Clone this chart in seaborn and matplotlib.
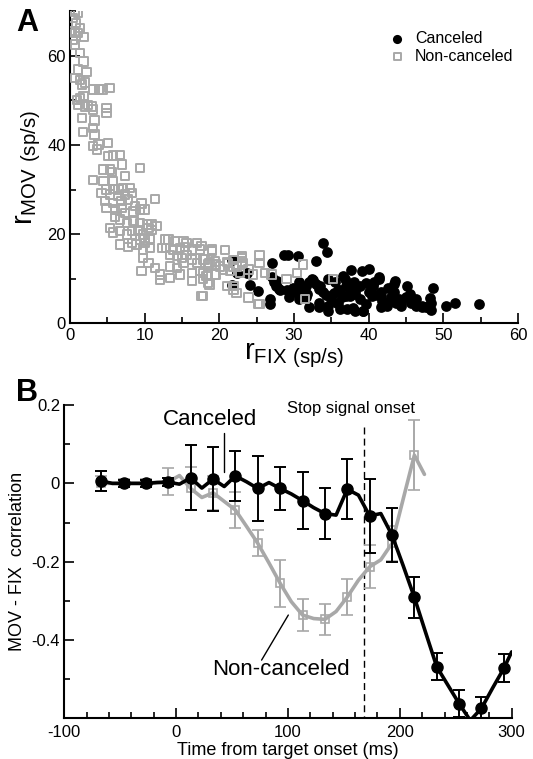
import matplotlib
matplotlib.use('Agg')
import matplotlib.pyplot as plt
from matplotlib.ticker import MultipleLocator, FuncFormatter
import numpy as np
import seaborn as sns

# ---- panel A data ----
canc_fix = [21.7, 22.4, 21.7, 23.7, 24.1, 25.2, 27.0, 26.8, 26.8, 27.7, 28.6, 29.2, 30.6, 28.1,
            29.9, 30.8, 31.7, 33.0, 33.9, 34.4, 32.4, 33.5, 34.6, 33.3, 34.6, 35.7, 36.6, 36.2,
            37.0, 35.3, 37.3, 37.0, 37.5, 38.2, 37.9, 39.1, 40.0, 39.7, 40.6, 40.4, 39.3, 41.4,
            41.7, 42.6, 43.5, 42.9, 44.0, 45.1, 45.5, 44.4, 46.4, 47.1, 48.2, 48.6, 48.4, 48.0,
            50.4, 51.6, 54.8, 27.0, 27.3, 27.6, 28.0, 29.1, 29.5, 30.2, 30.7, 31.6, 32.0, 32.5,
            33.0, 33.4, 33.9, 34.3, 35.0, 35.5, 35.9, 36.4, 36.8, 37.5, 38.2, 38.9, 39.6, 40.0,
            40.7, 41.1, 41.8, 42.5, 43.0, 43.6, 44.3, 45.0, 45.7, 46.4, 47.1, 47.7, 48.4, 36.1,
            37.1, 38.2, 39.3, 41.6, 33.4, 34.5, 32.0, 35.9, 38.9, 38.0, 41.6, 43.4, 30.7, 29.3,
            31.6, 37.7, 41.4, 43.4]
canc_mov = [14.2, 11.3, 8.7, 11.2, 8.7, 7.2, 13.6, 5.4, 4.3, 9.5, 15.4, 15.4, 15.2, 7.6,
            8.0, 7.2, 6.5, 13.9, 18.1, 16.0, 10.0, 8.4, 10.0, 4.6, 3.9, 4.6, 10.6, 7.6,
            6.1, 6.9, 9.1, 8.4, 6.1, 7.2, 3.5, 11.7, 12.1, 9.1, 8.4, 6.1, 2.8, 10.5,
            6.1, 8.0, 9.5, 5.0, 5.4, 8.4, 6.5, 4.6, 5.4, 3.9, 5.8, 8.0, 3.1, 3.6,
            3.9, 4.6, 4.4, 10.4, 9.3, 8.5, 7.8, 7.4, 7.0, 7.0, 9.3, 8.5, 9.3, 9.7,
            8.9, 7.8, 7.0, 6.3, 5.5, 9.3, 7.4, 5.9, 10.0, 7.8, 6.6, 5.5, 4.4, 7.0,
            9.3, 6.3, 5.1, 4.0, 5.9, 4.7, 4.0, 5.9, 4.7, 4.0, 3.6, 3.6, 4.7, 3.2,
            3.2, 2.8, 2.8, 3.6, 3.8, 2.8, 3.6, 4.7, 8.5, 9.3, 7.0, 7.0, 5.5, 5.9,
            5.9, 12.0, 9.9, 8.9]

nonc_fix = [0.7, 1.1, 0.4, 0.8, 1.3, 0.2, 0.7, 1.1, 1.9, 0.4, 0.7, 1.3, 1.8, 1.1, 2.2, 0.7,
            1.3, 1.6, 2.0, 3.1, 3.9, 4.4, 5.3, 0.9, 1.3, 1.8, 1.1, 2.0, 2.4, 2.9, 3.1, 4.9,
            4.9, 1.6, 3.3, 3.1, 1.7, 3.3, 3.1, 3.8, 5.1, 3.6, 5.1, 5.8, 6.7, 7.0, 9.4, 4.5,
            5.4, 3.1, 5.6, 7.4, 4.5, 5.8, 4.9, 5.8, 6.5, 7.1, 8.0, 4.2, 5.4, 6.5, 7.4, 8.3,
            4.7, 5.8, 6.9, 7.8, 8.7, 9.6, 10.0, 11.4, 4.9, 6.0, 6.9, 7.4, 8.5, 9.4, 6.0, 6.7,
            7.6, 8.5, 9.4, 10.3, 10.9, 11.6, 5.4, 5.8, 6.7, 7.6, 8.3, 9.1, 9.8, 10.5, 10.9, 9.4,
            10.0, 10.7, 6.7, 7.8, 8.3, 8.9, 10.0, 10.7, 9.8, 12.7, 13.2, 14.1, 15.2, 15.6, 17.0, 12.3,
            12.9, 13.8, 14.7, 15.4, 13.4, 14.3, 15.0, 15.6, 16.3, 17.4, 19.0, 20.8, 9.8, 10.5, 9.6, 11.4,
            12.1, 13.4, 14.3, 15.2, 16.3, 17.0, 17.8, 18.5, 19.4, 20.1, 21.2, 13.4, 14.7, 16.3, 16.3, 17.4,
            18.3, 18.5, 19.6, 20.5, 21.0, 21.9, 21.9, 23.0, 23.9, 24.5, 23.9, 23.0, 25.2, 17.8, 12.1, 17.6,
            19.0, 18.1, 18.7, 19.6, 21.0, 21.9, 23.0, 23.1, 17.8, 18.5, 19.4, 21.4, 22.3, 22.8, 17.8, 18.7,
            21.9, 22.3, 25.4, 25.4, 26.1, 27.0, 25.4, 29.0, 30.4, 31.2, 31.5, 35.2, 17.6]
nonc_mov = [69.9, 69.5, 68.4, 67.3, 66.2, 65.4, 65.1, 65.1, 64.2, 63.6, 62.5, 60.6, 58.7, 56.9, 56.3, 55.0,
            54.6, 53.5, 54.0, 52.4, 52.4, 52.4, 52.8, 50.1, 50.5, 50.9, 49.0, 48.6, 49.0, 48.6, 47.9, 48.3,
            47.2, 46.0, 45.5, 43.8, 42.9, 42.3, 39.7, 40.1, 40.5, 39.0, 37.5, 37.6, 37.8, 35.6, 34.9, 34.5,
            34.5, 32.1, 33.9, 33.0, 31.9, 31.9, 30.0, 30.2, 30.0, 30.4, 30.4, 29.3, 28.9, 28.5, 28.9, 29.3,
            27.4, 27.0, 27.4, 27.8, 26.3, 26.9, 25.5, 27.9, 25.9, 25.5, 25.9, 24.8, 25.1, 25.5, 24.0, 23.3,
            22.5, 22.9, 22.5, 22.2, 22.2, 21.8, 21.4, 20.4, 20.7, 19.9, 20.7, 21.0, 19.9, 21.4, 21.0, 18.8,
            19.2, 19.0, 17.7, 17.2, 18.1, 17.7, 18.1, 16.9, 16.6, 18.8, 18.8, 18.4, 18.4, 18.1, 18.1, 16.9,
            16.9, 16.6, 16.9, 17.2, 15.4, 15.1, 14.7, 15.4, 16.6, 16.6, 16.6, 16.4, 14.7, 13.6, 11.7, 12.5,
            11.0, 12.8, 12.5, 13.6, 14.3, 13.6, 14.3, 13.2, 13.9, 12.8, 13.6, 10.2, 11.0, 11.3, 9.5, 11.7,
            10.6, 9.0, 11.0, 12.1, 8.4, 8.4, 12.8, 14.7, 12.1, 11.0, 5.8, 13.9, 4.3, 6.1, 9.8, 17.3,
            16.2, 14.3, 13.6, 13.2, 13.7, 14.2, 15.1, 13.6, 11.3, 11.0, 11.0, 11.7, 12.8, 11.3, 9.9, 8.7,
            7.6, 6.9, 15.2, 13.6, 11.3, 11.0, 4.3, 10.0, 11.3, 13.2, 5.5, 10.0, 6.1]

# ---- panel B data ----
t_pts = [-67, -47, -27, -7, 13, 33, 53, 73, 93, 113, 133, 153, 173, 193, 213, 233, 253, 273, 293]
canc_r = [0.006, 0.0, 0.0, 0.003, 0.014, 0.011, 0.019, -0.013, -0.013, -0.044, -0.077, -0.015,
          -0.083, -0.132, -0.291, -0.468, -0.562, -0.574, -0.472]
canc_err = [0.026, 0.008, 0.008, 0.01, 0.083, 0.081, 0.063, 0.084, 0.054, 0.072, 0.064, 0.077,
            0.094, 0.069, 0.052, 0.035, 0.034, 0.03, 0.036]
t_pts_nc = [-67, -47, -27, -7, 13, 33, 53, 73, 93, 113, 133, 153, 173, 193, 213]
nonc_r = [0.0, 0.0, 0.0, 0.004, -0.013, -0.024, -0.068, -0.153, -0.255, -0.336, -0.347, -0.29,
          -0.213, -0.153, 0.072]
nonc_err = [0.02, 0.01, 0.01, 0.034, 0.055, 0.044, 0.045, 0.033, 0.06, 0.041, 0.04, 0.045,
            0.055, 0.045, 0.09]

t_line_c = [-67, -57, -47, -37, -27, -17, -7, 3, 13, 23, 33, 43, 53, 63, 73, 83, 93, 103, 113,
            123, 133, 143, 153, 163, 173, 183, 193, 203, 213, 223, 233, 243, 253, 263, 273, 283,
            293, 300]
canc_line = [0.006, 0.0, 0.0, 0.0, 0.0, 0.002, 0.003, -0.002, 0.014, -0.012, 0.011, -0.008, 0.019,
             0.004, -0.013, 0.002, -0.013, -0.027, -0.044, -0.062, -0.077, -0.081, -0.015, -0.03,
             -0.083, -0.077, -0.132, -0.21, -0.291, -0.38, -0.468, -0.515, -0.562, -0.605, -0.574,
             -0.522, -0.472, -0.43]
t_line_nc = [-67, -57, -47, -37, -27, -17, -7, 3, 13, 23, 33, 43, 53, 63, 73, 83, 93, 103, 113,
             123, 133, 143, 153, 163, 173, 183, 193, 203, 213, 222]
nonc_line = [0.0, 0.0, 0.0, 0.0, 0.0, 0.003, 0.004, 0.02, -0.013, -0.036, -0.024, -0.046, -0.068,
             -0.11, -0.153, -0.203, -0.255, -0.302, -0.336, -0.345, -0.347, -0.327, -0.29, -0.247,
             -0.213, -0.195, -0.153, -0.04, 0.072, 0.023]
stop_onset = 168

GRAY = '#a8a8a8'

sns.set_style('ticks')
plt.rcParams['font.family'] = ['Liberation Sans', 'DejaVu Sans']
plt.rcParams['axes.unicode_minus'] = False
plt.rcParams['mathtext.fontset'] = 'custom'
plt.rcParams['mathtext.rm'] = 'Liberation Sans'
plt.rcParams.update({'text.color': 'black', 'axes.labelcolor': 'black',
                     'xtick.color': 'black', 'ytick.color': 'black'})

fig = plt.figure(figsize=(5.33, 7.59), dpi=100)
axA = fig.add_axes([0.1313, 0.5738, 0.8405, 0.4117])
axB = fig.add_axes([0.1206, 0.0544, 0.8394, 0.4120])


def style_axis(ax):
    sns.despine(ax=ax)
    for s in ['left', 'bottom']:
        ax.spines[s].set_linewidth(1.5)
        ax.spines[s].set_color('black')
    ax.tick_params(which='major', direction='in', length=7.5, width=1.2, labelsize=12,
                   colors='black', pad=3)
    ax.tick_params(which='minor', direction='in', length=4.5, width=1.2)


# ---- Panel A ----
sns.scatterplot(x=canc_fix, y=canc_mov, ax=axA, marker='o', color='black', s=60,
                linewidth=0, label='Canceled', zorder=2)
sns.scatterplot(x=nonc_fix, y=nonc_mov, ax=axA, marker='s', facecolors='none',
                edgecolors=GRAY, linewidth=1.4, s=36, label='Non-canceled', zorder=3)
axA.set_xlim(0, 60)
axA.set_ylim(0, 70)
axA.xaxis.set_major_locator(MultipleLocator(10))
axA.xaxis.set_minor_locator(MultipleLocator(5))
axA.yaxis.set_major_locator(MultipleLocator(20))
axA.yaxis.set_minor_locator(MultipleLocator(10))
style_axis(axA)
axA.set_xlabel(r'$\mathregular{r_{FIX\ (sp/s)}}$', fontsize=21, labelpad=-1)
axA.set_ylabel(r'$\mathregular{r_{MOV\ (sp/s)}}$', fontsize=21, labelpad=3)
leg = axA.legend(loc='upper left', bbox_to_anchor=(0.695, 0.96), frameon=False, fontsize=11.5,
                 handlelength=1.0, handletextpad=0.6, labelspacing=0.15, borderpad=0,
                 markerscale=0.85)
fig.text(0.030, 0.959, 'A', fontsize=22, fontweight='bold', ha='left', va='baseline')

# ---- Panel B ----
sns.lineplot(x=t_line_nc, y=nonc_line, ax=axB, color=GRAY, linewidth=2.6, sort=False,
             estimator=None, zorder=2)
axB.errorbar(t_pts_nc, nonc_r, yerr=nonc_err, fmt='s', color=GRAY, mfc='none', mec=GRAY,
             mew=1.2, ms=6, ecolor=GRAY, elinewidth=1.4, capsize=4, capthick=1.4, zorder=3)
sns.lineplot(x=t_line_c, y=canc_line, ax=axB, color='black', linewidth=2.6, sort=False,
             estimator=None, zorder=4)
axB.errorbar(t_pts, canc_r, yerr=canc_err, fmt='o', color='black', ms=8, ecolor='black',
             elinewidth=1.4, capsize=4, capthick=1.4, zorder=5)
axB.plot([stop_onset, stop_onset], [0.145, -0.6], color='black', linewidth=1.0,
         linestyle=(0, (5, 3)), zorder=1)
axB.set_xlim(-100, 300)
axB.set_ylim(-0.598, 0.2)
axB.xaxis.set_major_locator(MultipleLocator(100))
axB.xaxis.set_minor_locator(MultipleLocator(20))
axB.yaxis.set_major_locator(MultipleLocator(0.2))
axB.yaxis.set_minor_locator(MultipleLocator(0.1))
axB.yaxis.set_major_formatter(FuncFormatter(lambda v, p: '0' if abs(v) < 1e-9 else f'{v:.1f}'))
style_axis(axB)
axB.tick_params(axis='x', which='major', pad=5)
axB.set_xlabel('Time from target onset (ms)', fontsize=13, labelpad=2)
axB.set_ylabel('MOV - FIX  correlation', fontsize=13, labelpad=4)

axB.text(30, 0.162, 'Canceled', fontsize=16, ha='center', va='center')
axB.plot([42.4, 42.4], [0.129, 0.03], color='black', linewidth=1.0)
axB.text(94, -0.476, 'Non-canceled', fontsize=16, ha='center', va='center')
axB.plot([100.3, 76.4], [-0.336, -0.451], color='black', linewidth=1.0)
axB.text(156, 0.192, 'Stop signal onset', fontsize=12, ha='center', va='center')
fig.text(0.030, 0.472, 'B', fontsize=22, fontweight='bold', ha='left', va='baseline')

fig.savefig('out.png', dpi=100)
